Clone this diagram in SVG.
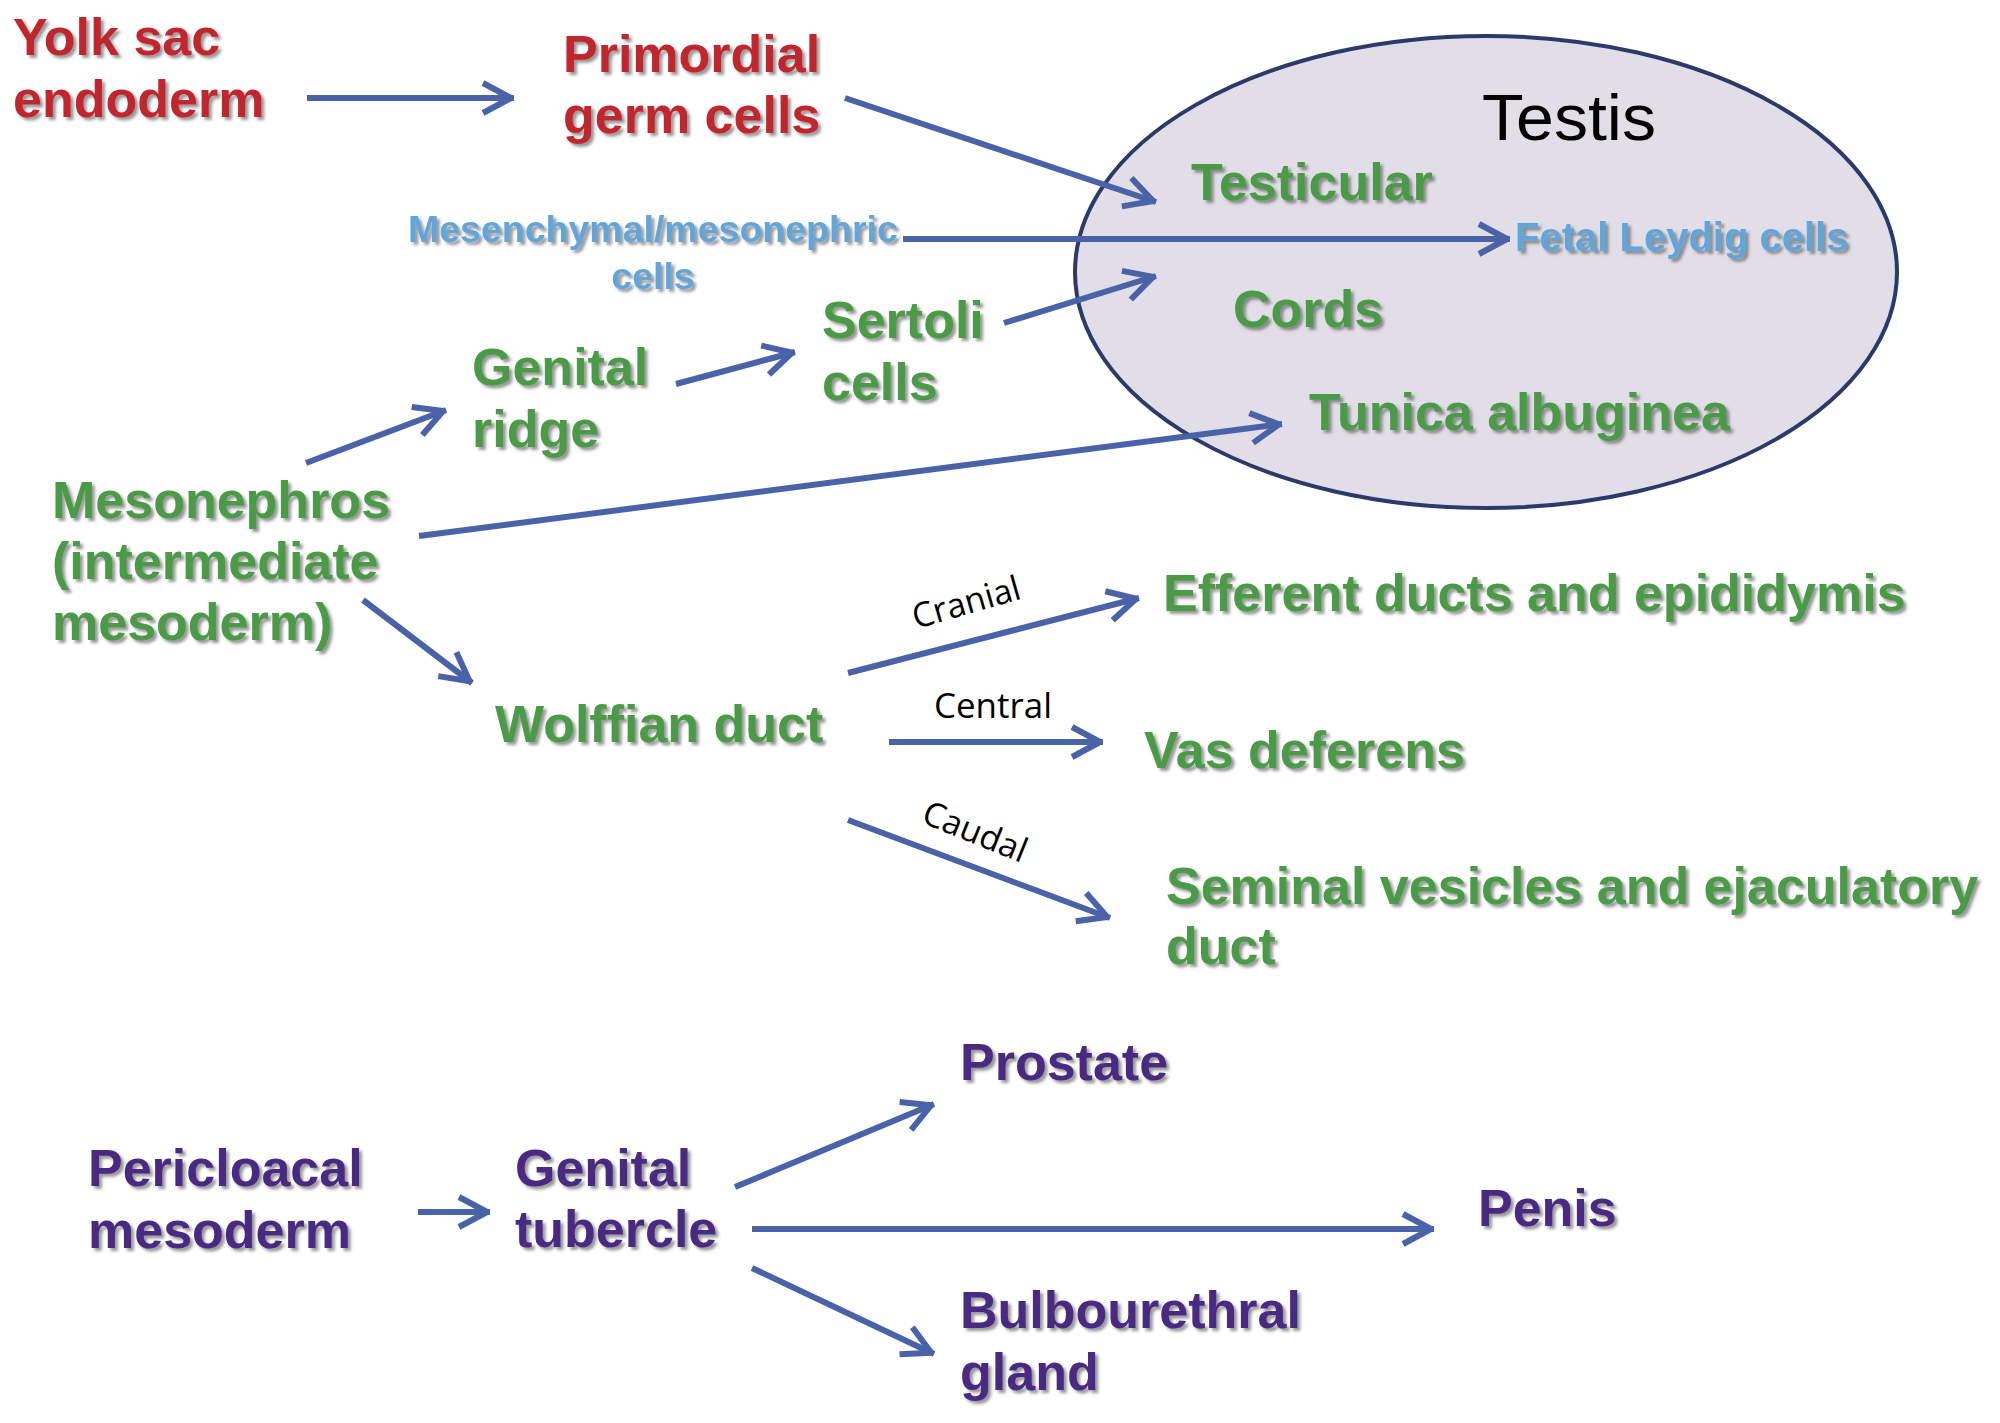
<svg xmlns="http://www.w3.org/2000/svg" width="2000" height="1423" viewBox="0 0 2000 1423">
<defs>
<filter id="sh" x="-10%" y="-20%" width="120%" height="150%">
<feDropShadow dx="3" dy="3" stdDeviation="1.4" flood-color="#444" flood-opacity="0.55"/>
</filter>
<marker id="ah" markerUnits="userSpaceOnUse" viewBox="-34 -20 40 40" markerWidth="40" markerHeight="40" refX="3" refY="0" orient="auto">
<path d="M-28,-15 L0,0 L-28,15" fill="none" stroke="#4a62a8" stroke-width="6" stroke-linejoin="round"/>
</marker>
<style>
.lb{font-family:"Liberation Sans",Arial,sans-serif;font-weight:bold;font-size:52px;filter:url(#sh)}
.red{fill:#c1272d}
.grn{fill:#4c9a46}
.blu{fill:#62a5d9}
.pur{fill:#4a2c82}
.sm{font-size:37.5px}
.fl{font-size:40px}
.cn{stroke:#4a62a8;stroke-width:6;fill:none;marker-end:url(#ah)}
.cl{font-family:"Open Sans","Noto Sans",sans-serif;font-size:34px;fill:#000}
</style>
</defs>
<rect width="2000" height="1423" fill="#fff"/>
<g id="testis">
<ellipse cx="1486" cy="272" rx="411" ry="236" fill="#e1dee7" stroke="#2c3a6b" stroke-width="4"/>
<text x="1482" y="140" font-family="Liberation Sans,Arial,sans-serif" font-size="64" fill="#000" textLength="174" lengthAdjust="spacingAndGlyphs">Testis</text>
</g>
<g id="connectors">
<line class="cn" x1="307" y1="98" x2="514" y2="98"/>
<line class="cn" x1="845" y1="98" x2="1156" y2="202"/>
<line class="cn" x1="903" y1="239" x2="1510" y2="239"/>
<line class="cn" x1="1004" y1="323" x2="1156" y2="276"/>
<line class="cn" x1="676" y1="384" x2="795" y2="352"/>
<line class="cn" x1="306" y1="463" x2="446" y2="410"/>
<line class="cn" x1="419" y1="536" x2="1282" y2="424"/>
<line class="cn" x1="363" y1="600" x2="472" y2="683"/>
<line class="cn" x1="848" y1="673" x2="1139" y2="598"/>
<line class="cn" x1="889" y1="742" x2="1103" y2="742"/>
<line class="cn" x1="848" y1="820" x2="1110" y2="918"/>
<line class="cn" x1="418" y1="1212" x2="490" y2="1212"/>
<line class="cn" x1="735" y1="1187" x2="934" y2="1104"/>
<line class="cn" x1="752" y1="1229" x2="1434" y2="1229"/>
<line class="cn" x1="752" y1="1268" x2="934" y2="1354"/>
<text class="cl" x="916" y="629" transform="rotate(-16 916 629)">Cranial</text>
<text class="cl" x="934" y="718" textLength="118" lengthAdjust="spacingAndGlyphs">Central</text>
<text class="cl" x="920" y="822" transform="rotate(22 920 822)">Caudal</text>
</g>
<g id="yolk-sac"><text class="lb red" x="13" y="55">Yolk sac</text><text class="lb red" x="13" y="117">endoderm</text></g>
<g id="primordial"><text class="lb red" x="563" y="72">Primordial</text><text class="lb red" x="563" y="133">germ cells</text></g>
<g id="testicular"><text class="lb grn" x="1191" y="200">Testicular</text></g>
<g id="leydig"><text class="lb blu fl" x="1515" y="251">Fetal Leydig cells</text></g>
<g id="cords"><text class="lb grn" x="1233" y="327">Cords</text></g>
<g id="tunica"><text class="lb grn" x="1309" y="430">Tunica albuginea</text></g>
<g id="mesenchymal"><text class="lb blu sm" x="408" y="242">Mesenchymal/mesonephric</text><text class="lb blu sm" x="653" y="289" text-anchor="middle">cells</text></g>
<g id="genital-ridge"><text class="lb grn" x="472" y="385">Genital</text><text class="lb grn" x="472" y="447">ridge</text></g>
<g id="sertoli"><text class="lb grn" x="822" y="338">Sertoli</text><text class="lb grn" x="822" y="400">cells</text></g>
<g id="mesonephros"><text class="lb grn" x="52" y="518">Mesonephros</text><text class="lb grn" x="52" y="579">(intermediate</text><text class="lb grn" x="52" y="640">mesoderm)</text></g>
<g id="wolffian"><text class="lb grn" x="495" y="742">Wolffian duct</text></g>
<g id="efferent"><text class="lb grn" x="1163" y="611">Efferent ducts and epididymis</text></g>
<g id="vas"><text class="lb grn" x="1144" y="768">Vas deferens</text></g>
<g id="seminal"><text class="lb grn" x="1166" y="904">Seminal vesicles and ejaculatory</text><text class="lb grn" x="1166" y="964">duct</text></g>
<g id="pericloacal"><text class="lb pur" x="88" y="1186">Pericloacal</text><text class="lb pur" x="88" y="1248">mesoderm</text></g>
<g id="genital-tubercle"><text class="lb pur" x="515" y="1186">Genital</text><text class="lb pur" x="515" y="1247">tubercle</text></g>
<g id="prostate"><text class="lb pur" x="960" y="1080">Prostate</text></g>
<g id="penis"><text class="lb pur" x="1478" y="1226">Penis</text></g>
<g id="bulbourethral"><text class="lb pur" x="960" y="1328">Bulbourethral</text><text class="lb pur" x="960" y="1390">gland</text></g>
</svg>
